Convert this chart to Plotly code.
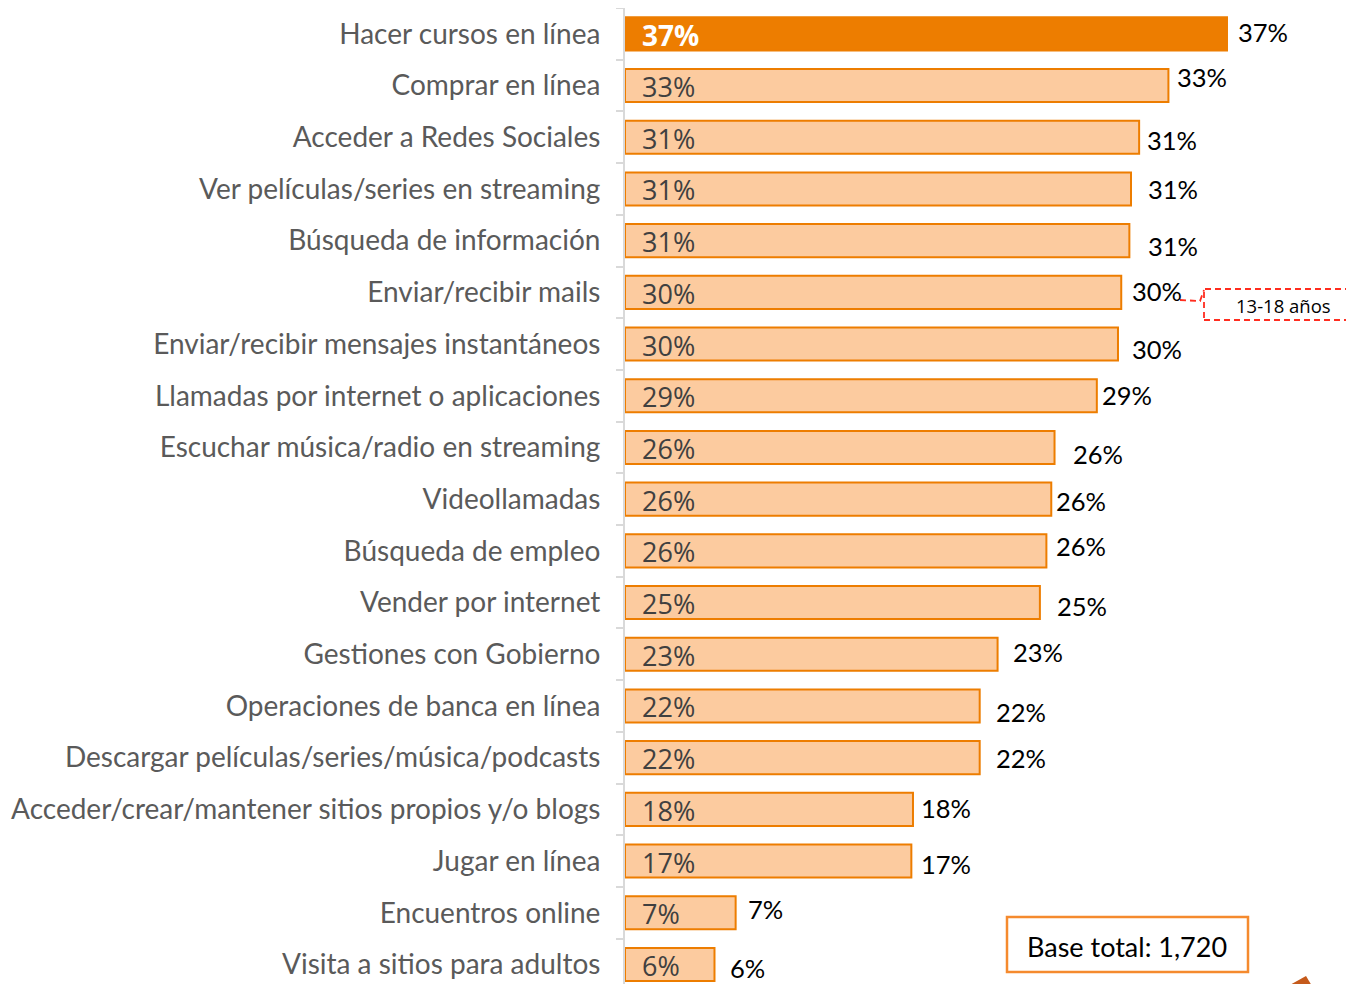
import plotly.graph_objects as go

categories = [
    "Hacer cursos en línea",
    "Comprar en línea",
    "Acceder a Redes Sociales",
    "Ver películas/series en streaming",
    "Búsqueda de información",
    "Enviar/recibir mails",
    "Enviar/recibir mensajes instantáneos",
    "Llamadas por internet o aplicaciones",
    "Escuchar música/radio en streaming",
    "Videollamadas",
    "Búsqueda de empleo",
    "Vender por internet",
    "Gestiones con Gobierno",
    "Operaciones de banca en línea",
    "Descargar películas/series/música/podcasts",
    "Acceder/crear/mantener sitios propios y/o blogs",
    "Jugar en línea",
    "Encuentros online",
    "Visita a sitios para adultos",
]
values = [37.0, 33.4, 31.6, 31.1, 31.0, 30.5, 30.3, 29.0, 26.4, 26.2, 25.9, 25.5,
          22.9, 21.8, 21.8, 17.7, 17.6, 6.8, 5.5]
labels = ["37%", "33%", "31%", "31%", "31%", "30%", "30%", "29%", "26%", "26%",
          "26%", "25%", "23%", "22%", "22%", "18%", "17%", "7%", "6%"]

# label placement offsets (style only), in pixels
out_dx = [11, 9, 8, 17, 19, 11, 14, 5, 18, 5, 10, 17, 15, 16, 16, 8, 10, 12, 16]
out_dy = [-2, -9, 3, 0, 5, -1, 5, -1, 7, 2, -5, 3, -2, 6, 0, -1, 3, -4, 4]

OFF = 8  # page body margin
W, H = 1354 - OFF, 984 - OFF
ML, MT = 625 - OFF, 0
PW, PH = W - ML, H - MT
px_per_unit = 16.27
xmax = PW / px_per_unit
row_px = 51.7
n_vis = PH / row_px

def px(x):
    return (x - OFF - ML) / PW

def py(y):
    return 1 - (y - OFF - MT) / PH

ORANGE = "#ED7D00"
PEACH = "#FCCB9F"

fill = [ORANGE] + [PEACH] * (len(values) - 1)

fig = go.Figure()
fig.add_trace(go.Bar(
    y=categories, x=values, orientation="h",
    marker=dict(color=fill, line=dict(color=ORANGE, width=2)),
    hoverinfo="skip",
))

annotations = []
for i, (c, v, lab) in enumerate(zip(categories, values, labels)):
    inside_font = dict(family="Open Sans", size=27, color="#404040")
    if i == 0:
        inside_font = dict(family="Open Sans", size=28, color="white", weight="bold")
    annotations.append(dict(
        x=0, y=c, xref="x", yref="y", text=lab, showarrow=False,
        xanchor="left", yanchor="middle", xshift=15, yshift=-1,
        font=inside_font,
    ))
    annotations.append(dict(
        x=v, y=c, xref="x", yref="y", text=lab, showarrow=False,
        xanchor="left", yanchor="middle", xshift=out_dx[i] - 2, yshift=-out_dy[i],
        font=dict(family="Lato", size=25.5, color="black"),
    ))

# callout "13-18 años"
annotations.append(dict(
    x=px(1283), y=py(305), xref="paper", yref="paper", text="13-18 años",
    showarrow=False, xanchor="center", yanchor="middle",
    font=dict(family="Open Sans", size=18.5, color="black"),
))
# base total
annotations.append(dict(
    x=px(1127), y=py(946), xref="paper", yref="paper", text="Base total: 1,720",
    showarrow=False, xanchor="center", yanchor="middle",
    font=dict(family="Lato", size=27, color="black"),
))

RED = "#FF2D1F"
shapes = [
    dict(type="rect", xref="paper", yref="paper",
         x0=px(1204), x1=px(1362), y0=py(320), y1=py(289),
         line=dict(color=RED, width=1.8, dash="6px,4px")),
    dict(type="path", xref="paper", yref="paper",
         path=f"M {px(1180)},{py(300)} L {px(1200)},{py(301)} L {px(1204)},{py(290)}",
         line=dict(color=RED, width=1.8, dash="6px,4px")),
    dict(type="rect", xref="paper", yref="paper",
         x0=px(1007), x1=px(1248), y0=py(972), y1=py(917),
         line=dict(color="#F58A2E", width=2.5), fillcolor="white"),
    dict(type="path", xref="paper", yref="paper",
         path=f"M {px(1288)},{py(986)} L {px(1306)},{py(976)} L {px(1312)},{py(986)} Z",
         line=dict(width=0), fillcolor="#C55A1B"),
]

fig.update_layout(
    width=W, height=H,
    margin=dict(l=ML, r=0, t=MT, b=0, pad=0, autoexpand=False),
    paper_bgcolor="white", plot_bgcolor="white",
    bargap=0.36,
    showlegend=False,
    xaxis=dict(range=[0, xmax], visible=False, fixedrange=True, automargin=False),
    yaxis=dict(
        categoryorder="array", categoryarray=categories,
        range=[n_vis - 0.5, -0.5],
        automargin=False,
        showline=True, linecolor="#D9D9D9", linewidth=2,
        ticks="outside", tickson="boundaries", ticklen=7, tickcolor="#D9D9D9", tickwidth=2,
        tickfont=dict(family="Lato", size=28, color="#5A5A5A"),
        ticklabelstandoff=17,
        showgrid=False, zeroline=False, fixedrange=True,
    ),
    annotations=annotations,
    shapes=shapes,
)

fig.write_html("out.html")
